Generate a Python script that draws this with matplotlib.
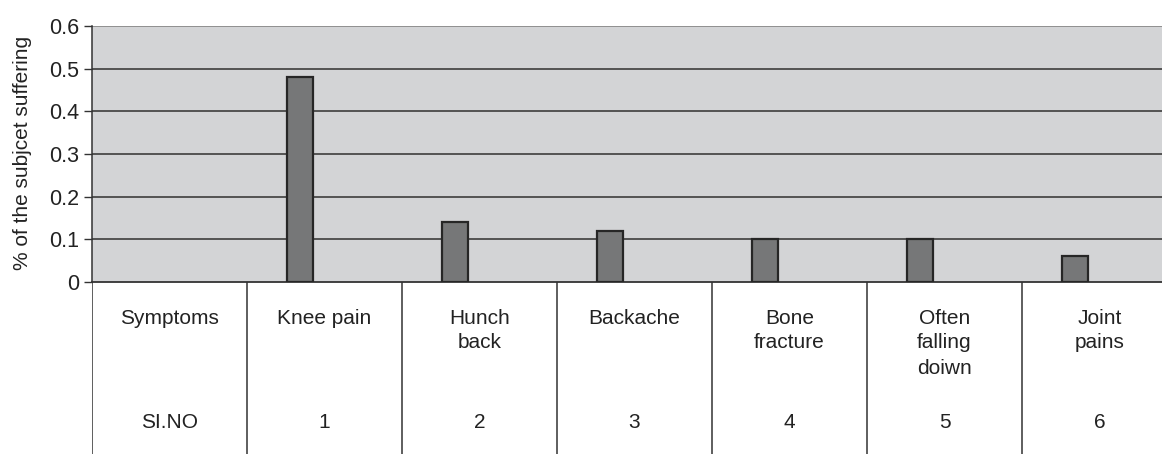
import matplotlib
matplotlib.use("Agg")
import matplotlib.pyplot as plt
import numpy as np

plt.rcParams['font.family'] = ['Liberation Sans', 'DejaVu Sans']

# ---- data ----
header_label = "Symptoms"
header_number = "SI.NO"
symptoms = ["Knee pain", "Hunch\nback", "Backache", "Bone\nfracture",
            "Often\nfalling\ndoiwn", "Joint\npains"]
numbers = ["1", "2", "3", "4", "5", "6"]
values = [0.48, 0.14, 0.12, 0.10, 0.10, 0.06]
yticks = [0, 0.1, 0.2, 0.3, 0.4, 0.5, 0.6]
ytick_labels = ["0", "0.1", "0.2", "0.3", "0.4", "0.5", "0.6"]
ylabel = "% of the subjcet suffering"

W, H = 1162, 454
fig = plt.figure(figsize=(W / 100, H / 100), dpi=100)

left_px, top_px, zero_px = 92, 26, 282
group_px = 155.0
ax_w_px = W - left_px
ax = fig.add_axes([left_px / W, (H - zero_px) / H, ax_w_px / W, (zero_px - top_px) / H])
ncat = len(symptoms) + 1
xmin = -0.5
xmax = xmin + ax_w_px / group_px
ax.set_xlim(xmin, xmax)
ax.set_ylim(0, 0.6)
ax.set_facecolor("#d3d4d6")

# gridlines
for t in yticks[1:-1]:
    ax.axhline(t, color="#303030", lw=1.1, zorder=1)
ax.axhline(0.6, color="#8a8a8a", lw=1.3, zorder=1)

pos = np.arange(1, len(symptoms) + 1)
ax.bar(pos - 0.158, values, width=0.163, color="#767778", edgecolor="#262626",
       linewidth=1.6, zorder=3)

for s in ["top", "right"]:
    ax.spines[s].set_visible(False)
ax.spines["left"].set_color("#333333")
ax.spines["bottom"].set_color("#333333")
ax.spines["bottom"].set_linewidth(1.3)
ax.spines["left"].set_linewidth(1.1)
ax.set_yticks(yticks)
ax.set_yticklabels(ytick_labels, fontsize=15.5, color="#222222")
ax.tick_params(axis="y", length=6, width=1, color="#333333", pad=3)
ax.set_xticks([])
ax.text(-0.0645, 0.505, ylabel, rotation=90, ha="center", va="center",
        fontsize=15, color="#222222", transform=ax.transAxes)

# table area below
axb = fig.add_axes([left_px / W, 0, ax_w_px / W, (H - zero_px) / H])
axb.set_xlim(xmin, xmax)
axb.set_ylim(H - zero_px, 0)  # y measured downward from the x-axis (px)
axb.axis("off")
for i in range(ncat):
    axb.axvline(i - 0.5, color="#333333", lw=1.1)

labels = [header_label] + symptoms
nums = [header_number] + numbers
for i, (lab, num) in enumerate(zip(labels, nums)):
    for k, line in enumerate(lab.split("\n")):
        axb.text(i, 36 + 25 * k, line, ha="center", va="center", fontsize=15,
                 color="#222222")
    axb.text(i, 141, num, ha="center", va="center", fontsize=15,
             color="#222222")

fig.savefig("out.png", dpi=100)
